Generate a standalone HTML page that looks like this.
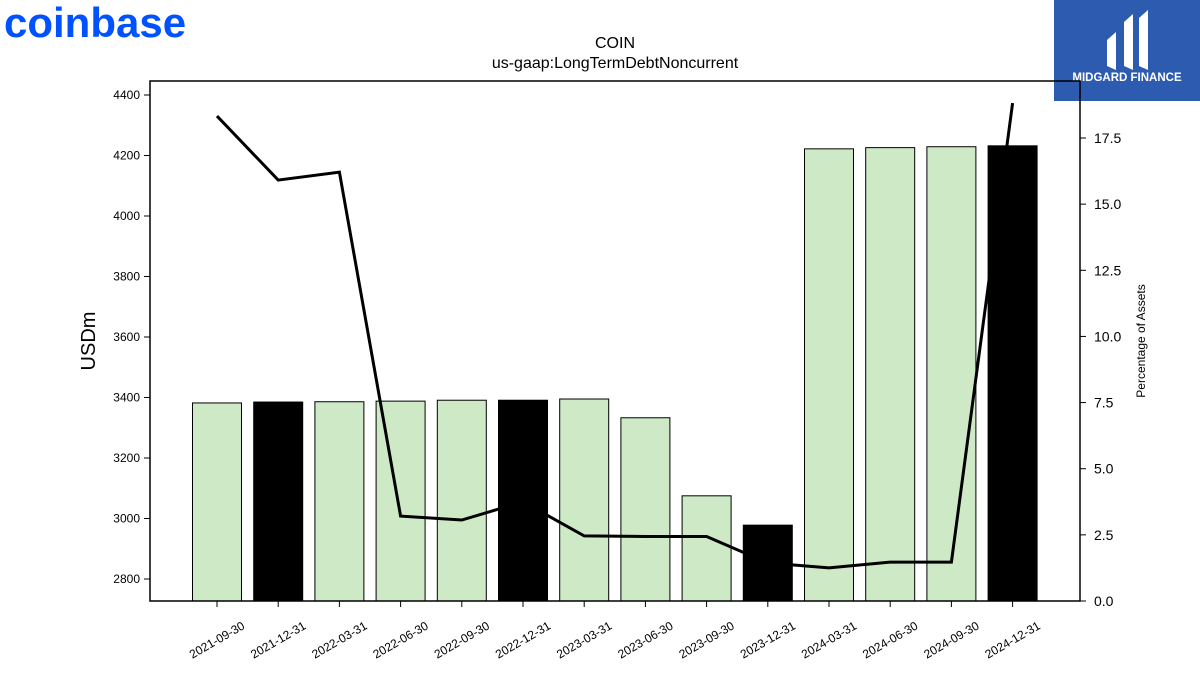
<!DOCTYPE html>
<html><head><meta charset="utf-8"><style>
body{margin:0;background:#fff;width:1200px;height:675px;overflow:hidden;font-family:"Liberation Sans","DejaVu Sans",sans-serif}
</style></head><body>
<svg width="1200" height="675" xmlns="http://www.w3.org/2000/svg">
<text x="4" y="37" font-size="42" font-weight="bold" fill="#0052ff" font-family="Liberation Sans, sans-serif">coinbase</text>
<g>
<rect x="1054" y="0" width="146" height="101" fill="#2c5bb0"/>
<path d="M1107 40 L1116 32 L1116 70 L1107 66 Z M1124 22 L1133 14 L1133 70 L1124 66 Z M1139 18 L1148 10 L1148 70 L1139 66 Z" fill="#fff"/>
<text x="1127" y="81" font-size="11.5" font-weight="bold" fill="#fff" text-anchor="middle">MIDGARD FINANCE</text>
</g>
<text x="615" y="48" font-size="16" text-anchor="middle">COIN</text>
<text x="615" y="68" font-size="16" text-anchor="middle">us-gaap:LongTermDebtNoncurrent</text>
<g id="plot"></g>
<rect x="150" y="81" width="930" height="520" fill="none" stroke="#000" stroke-width="1.5"/>
<text transform="translate(95,341) rotate(-90)" font-size="20" text-anchor="middle">USDm</text>
<text transform="translate(1145,341) rotate(-90)" font-size="12" text-anchor="middle">Percentage of Assets</text>
</svg>
<script>
const categories=["2021-09-30","2021-12-31","2022-03-31","2022-06-30","2022-09-30","2022-12-31","2023-03-31","2023-06-30","2023-09-30","2023-12-31","2024-03-31","2024-06-30","2024-09-30","2024-12-31"];
const debtValues=[3382,3385,3386,3388,3391,3391,3395,3333,3075,2978,4222,4226,4229,4232];
const pctValues=[18.33,15.91,16.21,3.21,3.06,3.75,2.46,2.44,2.44,1.44,1.25,1.47,1.47,18.82];
const isYearEnd=[false,true,false,false,false,true,false,false,false,true,false,false,false,true];
const leftTicks=[2800,3000,3200,3400,3600,3800,4000,4200,4400];
const rightTicks=[0,2.5,5,7.5,10,12.5,15,17.5];
const NS="http://www.w3.org/2000/svg";
const g=document.getElementById("plot");
const y=v=>579-(v-2800)*(484/1600);
const y2=v=>601-v*(463/17.5);
const x=i=>217+i*61.2;
function mk(t,a){const e=document.createElementNS(NS,t);for(const k in a)e.setAttribute(k,a[k]);g.appendChild(e);return e;}
categories.forEach((c,i)=>{
 const b=mk("rect",{x:x(i)-24.5,y:y(debtValues[i]),width:49,height:601-y(debtValues[i]),fill:isYearEnd[i]?"#000":"#cde9c6",stroke:"#000","stroke-width":1});
 
 
 const tk=mk("line",{x1:x(i),x2:x(i),y1:601,y2:607,stroke:"#000"});
 
 
 const t=mk("text",{x:x(i),y:644,"font-size":12,"text-anchor":"middle",transform:`rotate(-30 ${x(i)} 640)`});
 t.textContent=c;
 
 
});
const ln=mk("polyline",{points:pctValues.map((v,i)=>x(i)+","+y2(v)).join(" "),fill:"none",stroke:"#000","stroke-width":3});


leftTicks.forEach(v=>{
 const l=mk("line",{x1:144,x2:150,y1:y(v),y2:y(v),stroke:"#000"});
 
 
 const t=mk("text",{x:140,y:y(v)+4,"font-size":12,"text-anchor":"end"});
 t.textContent=v;
 
 
});
rightTicks.forEach(v=>{
 const l=mk("line",{x1:1080,x2:1086,y1:y2(v),y2:y2(v),stroke:"#000"});
 
 
 const t=mk("text",{x:1094,y:y2(v)+5,"font-size":14});
 t.textContent=v.toFixed(1);
 
 
});
</script>
</body></html>
